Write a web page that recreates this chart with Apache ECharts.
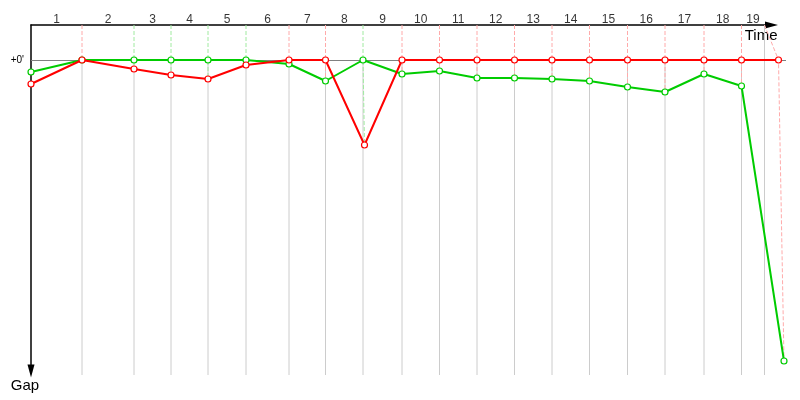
<!DOCTYPE html>
<html>
<head>
<meta charset="utf-8">
<script src="https://cdn.jsdelivr.net/npm/echarts@6/dist/echarts.min.js"></script>
<style>html,body{margin:0;padding:0;background:#fff}#c{width:800px;height:400px}</style>
</head>
<body>
<div id="c"></div>
<script>
const lapLabels = ['1','2','3','4','5','6','7','8','9','10','11','12','13','14','15','16','17','18','19'];
const lapBoundaries = [0,102,206,280,354,430,516,589,664,742,817,892,967,1042,1117,1193,1268,1346,1421,1467];
const redTime = [0,102,206,280,354,430,516,589,667,742,817,892,967,1042,1117,1193,1268,1346,1421,1495];
const redGap = [2.4,0,0.9,1.5,1.9,0.5,0,0,8.5,0,0,0,0,0,0,0,0,0,0,0];
const greenTime = [0,102,206,280,354,430,516,589,664,742,817,892,967,1042,1117,1193,1268,1346,1421,1506];
const greenGap = [1.2,0,0,0,0,0,0.4,2.1,0,1.4,1.1,1.8,1.8,1.9,2.1,2.7,3.2,1.4,2.6,30.1];

const X_MAX_AXIS = 1481, X_MAX_DATA = 1510, Y_MIN = -3.5, Y_MAX = 31.1, GREY_BOTTOM = 31.5;
const RED = '#ff0000', GREEN = '#00cc00', RED_L = '#ffaaaa', GREEN_L = '#a0eaa0';
const FONT = 'Liberation Sans';

const series = [];
// grey lap boundary lines
for (let i = 1; i < lapBoundaries.length; i++) {
  const b = lapBoundaries[i];
  const leaderAt = (redGap[i] === 0 ? redTime[i] : greenTime[i]);
  const start = leaderAt === b ? 0 : Y_MIN;
  series.push({type:'line', silent:true, clip:false, symbol:'none', z:1,
    lineStyle:{color:'#cccccc', width:1}, data:[[b, start],[b, GREY_BOTTOM]]});
}
// dashed lap lines
for (let i = 1; i < lapBoundaries.length; i++) {
  const pts = [[redTime[i], redGap[i]], [greenTime[i], greenGap[i]]].sort((a,b)=>a[1]-b[1]);
  const col = redGap[i] === 0 ? RED_L : GREEN_L;
  series.push({type:'line', silent:true, clip:false, symbol:'none', z:2,
    lineStyle:{color:col, width:1, type:[4,2]}, data:[[lapBoundaries[i], Y_MIN]].concat(pts)});
}
// lap labels
series.push({type:'scatter', silent:true, clip:false, symbolSize:0, z:5,
  label:{show:true, position:'top', distance:0, offset:[0,1], color:'#000', fontFamily:FONT, fontSize:12,
    formatter:p=>lapLabels[p.dataIndex]},
  data: lapLabels.map((l,k)=>[(lapBoundaries[k]+lapBoundaries[k+1])/2, Y_MIN])});
// data lines
series.push({type:'line', clip:false, z:4, data: redTime.map((t,i)=>[t, redGap[i]]),
  symbol:'circle', symbolSize:6, showAllSymbol:true,
  itemStyle:{color:'#fff', borderColor:RED, borderWidth:1.2},
  lineStyle:{color:RED, width:2},
  markLine:{silent:true, symbol:'none', label:{show:false}, z:3,
    lineStyle:{color:'#808080', width:1, type:'solid'}, data:[{yAxis:0}]}});
series.push({type:'line', clip:false, z:3, data: greenTime.map((t,i)=>[t, greenGap[i]]),
  symbol:'circle', symbolSize:6, showAllSymbol:true,
  itemStyle:{color:'#fff', borderColor:GREEN, borderWidth:1.2},
  lineStyle:{color:GREEN, width:2}});

const hidden = {axisLine:{show:false}, axisTick:{show:false}, axisLabel:{show:false}, splitLine:{show:false}};
const chart = echarts.init(document.getElementById('c'), null, {renderer:'canvas'});
chart.setOption({
  animation:false,
  grid:[{left:31, right:14, top:25, bottom:29}, {left:31, right:28.5, top:25, bottom:29}],
  xAxis:[
    Object.assign({type:'value', gridIndex:0, min:0, max:X_MAX_DATA}, hidden),
    {type:'value', gridIndex:1, position:'top', min:0, max:X_MAX_AXIS,
      name:'Time', nameLocation:'end', nameGap:6,
      nameTextStyle:{fontFamily:FONT, fontSize:15, color:'#000', align:'right', verticalAlign:'top', padding:[3,0,0,0]},
      axisLine:{show:true, onZero:false, symbol:['none','triangle'], symbolSize:[7,13], lineStyle:{color:'#000', width:1.5}},
      axisTick:{show:false}, axisLabel:{show:false}, splitLine:{show:false}}
  ],
  yAxis:[
    Object.assign({type:'value', gridIndex:0, inverse:true, min:Y_MIN, max:Y_MAX}, hidden),
    {type:'value', gridIndex:1, inverse:true, min:Y_MIN, max:Y_MAX,
      name:'Gap', nameLocation:'end', nameGap:7,
      nameTextStyle:{fontFamily:FONT, fontSize:15, color:'#000', align:'center', verticalAlign:'top', padding:[0,12,0,0]},
      axisLine:{show:true, onZero:false, symbol:['triangle','none'], symbolSize:[7,13], lineStyle:{color:'#000', width:1.5}},
      axisTick:{show:false}, splitLine:{show:false},
      axisLabel:{show:true, customValues:[0], formatter:v=>(v===0?"+0'":''), fontFamily:FONT, fontSize:10, color:'#000', margin:7}}
  ],
  series: series
});
</script>
</body>
</html>
